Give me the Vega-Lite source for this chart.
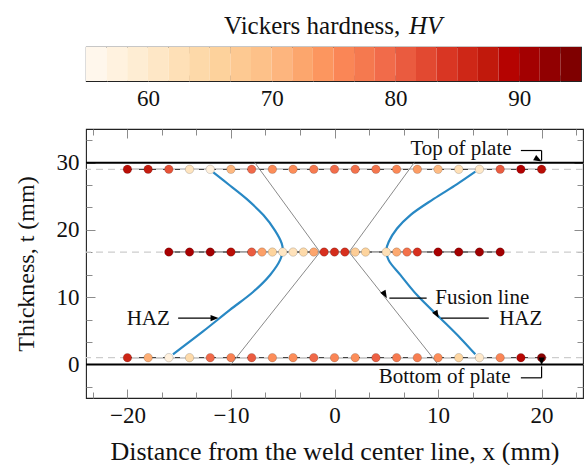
{
  "$schema": "https://vega.github.io/schema/vega-lite/v6.json",
  "padding": {"left": 13, "top": 13, "right": 2, "bottom": 4},
  "config": {
    "font": "Liberation Serif",
    "view": {"stroke": "#222222", "strokeWidth": 1.1},
    "axis": {
      "labelFont": "Liberation Serif",
      "titleFont": "Liberation Serif",
      "labelFontSize": 23,
      "titleFontSize": 25,
      "titleFontWeight": "normal",
      "labelColor": "#111111",
      "titleColor": "#111111",
      "domain": false,
      "grid": false,
      "labelOverlap": false,
      "labelFlush": false,
      "tickColor": "#8c8c8c",
      "tickWidth": 1
    }
  },
  "datasets": {
    "bands": [
      {"lo": 55, "hi": 56.667, "hv": 55},
      {"lo": 56.667, "hi": 58.333, "hv": 56.739},
      {"lo": 58.333, "hi": 60, "hv": 58.478},
      {"lo": 60, "hi": 61.667, "hv": 60.217},
      {"lo": 61.667, "hi": 63.333, "hv": 61.957},
      {"lo": 63.333, "hi": 65, "hv": 63.696},
      {"lo": 65, "hi": 66.667, "hv": 65.435},
      {"lo": 66.667, "hi": 68.333, "hv": 67.174},
      {"lo": 68.333, "hi": 70, "hv": 68.913},
      {"lo": 70, "hi": 71.667, "hv": 70.652},
      {"lo": 71.667, "hi": 73.333, "hv": 72.391},
      {"lo": 73.333, "hi": 75, "hv": 74.13},
      {"lo": 75, "hi": 76.667, "hv": 75.87},
      {"lo": 76.667, "hi": 78.333, "hv": 77.609},
      {"lo": 78.333, "hi": 80, "hv": 79.348},
      {"lo": 80, "hi": 81.667, "hv": 81.087},
      {"lo": 81.667, "hi": 83.333, "hv": 82.826},
      {"lo": 83.333, "hi": 85, "hv": 84.565},
      {"lo": 85, "hi": 86.667, "hv": 86.304},
      {"lo": 86.667, "hi": 88.333, "hv": 88.043},
      {"lo": 88.333, "hi": 90, "hv": 89.783},
      {"lo": 90, "hi": 91.667, "hv": 91.522},
      {"lo": 91.667, "hi": 93.333, "hv": 93.261},
      {"lo": 93.333, "hi": 95, "hv": 95}
    ],
    "cbTitle": [{"text": "Vickers hardness,", "x": 80.4, "y": 1.62}],
    "cbSymbol": [{"text": "HV", "x": 81.1, "y": 1.62}],
    "pts": [
      {"row": "top", "x": -20, "y": 29, "hv": 89},
      {"row": "top", "x": -18, "y": 29, "hv": 87.5},
      {"row": "top", "x": -16, "y": 29, "hv": 82},
      {"row": "top", "x": -14, "y": 29, "hv": 61},
      {"row": "top", "x": -12, "y": 29, "hv": 57},
      {"row": "top", "x": -10, "y": 29, "hv": 70.5},
      {"row": "top", "x": -8, "y": 29, "hv": 79.5},
      {"row": "top", "x": -6, "y": 29, "hv": 75},
      {"row": "top", "x": -4, "y": 29, "hv": 75},
      {"row": "top", "x": -2, "y": 29, "hv": 77.5},
      {"row": "top", "x": 0, "y": 29, "hv": 79},
      {"row": "top", "x": 2, "y": 29, "hv": 78.5},
      {"row": "top", "x": 4, "y": 29, "hv": 78},
      {"row": "top", "x": 6, "y": 29, "hv": 75.5},
      {"row": "top", "x": 8, "y": 29, "hv": 73.5},
      {"row": "top", "x": 10, "y": 29, "hv": 70},
      {"row": "top", "x": 12, "y": 29, "hv": 62},
      {"row": "top", "x": 14, "y": 29, "hv": 60},
      {"row": "top", "x": 16, "y": 29, "hv": 81},
      {"row": "top", "x": 18, "y": 29, "hv": 90},
      {"row": "top", "x": 20, "y": 29, "hv": 89},
      {"row": "mid", "x": -16, "y": 16.7, "hv": 91},
      {"row": "mid", "x": -14, "y": 16.7, "hv": 91},
      {"row": "mid", "x": -12, "y": 16.7, "hv": 91.5},
      {"row": "mid", "x": -10, "y": 16.7, "hv": 89},
      {"row": "mid", "x": -8, "y": 16.7, "hv": 81},
      {"row": "mid", "x": -7, "y": 16.7, "hv": 73},
      {"row": "mid", "x": -6, "y": 16.7, "hv": 65},
      {"row": "mid", "x": -5, "y": 16.7, "hv": 60.5},
      {"row": "mid", "x": -4, "y": 16.7, "hv": 61.5},
      {"row": "mid", "x": -3, "y": 16.7, "hv": 63.5},
      {"row": "mid", "x": -2, "y": 16.7, "hv": 72.5},
      {"row": "mid", "x": -1, "y": 16.7, "hv": 85},
      {"row": "mid", "x": 0, "y": 16.7, "hv": 85.5},
      {"row": "mid", "x": 1, "y": 16.7, "hv": 85},
      {"row": "mid", "x": 2, "y": 16.7, "hv": 66.5},
      {"row": "mid", "x": 3, "y": 16.7, "hv": 65},
      {"row": "mid", "x": 5, "y": 16.7, "hv": 62},
      {"row": "mid", "x": 6, "y": 16.7, "hv": 72},
      {"row": "mid", "x": 7, "y": 16.7, "hv": 78.5},
      {"row": "mid", "x": 8, "y": 16.7, "hv": 85},
      {"row": "mid", "x": 10, "y": 16.7, "hv": 91},
      {"row": "mid", "x": 12, "y": 16.7, "hv": 91.5},
      {"row": "mid", "x": 14, "y": 16.7, "hv": 92},
      {"row": "mid", "x": 16, "y": 16.7, "hv": 91.5},
      {"row": "bottom", "x": -20, "y": 1, "hv": 86.5},
      {"row": "bottom", "x": -18, "y": 1, "hv": 71.5},
      {"row": "bottom", "x": -16, "y": 1, "hv": 57},
      {"row": "bottom", "x": -14, "y": 1, "hv": 63.5},
      {"row": "bottom", "x": -12, "y": 1, "hv": 79.5},
      {"row": "bottom", "x": -10, "y": 1, "hv": 76.5},
      {"row": "bottom", "x": -8, "y": 1, "hv": 81},
      {"row": "bottom", "x": -6, "y": 1, "hv": 75},
      {"row": "bottom", "x": -4, "y": 1, "hv": 75},
      {"row": "bottom", "x": -2, "y": 1, "hv": 79.5},
      {"row": "bottom", "x": 0, "y": 1, "hv": 76},
      {"row": "bottom", "x": 2, "y": 1, "hv": 75},
      {"row": "bottom", "x": 4, "y": 1, "hv": 80.5},
      {"row": "bottom", "x": 6, "y": 1, "hv": 77.5},
      {"row": "bottom", "x": 8, "y": 1, "hv": 77},
      {"row": "bottom", "x": 10, "y": 1, "hv": 75},
      {"row": "bottom", "x": 12, "y": 1, "hv": 64.5},
      {"row": "bottom", "x": 14, "y": 1, "hv": 59.5},
      {"row": "bottom", "x": 16, "y": 1, "hv": 76},
      {"row": "bottom", "x": 18, "y": 1, "hv": 89.5},
      {"row": "bottom", "x": 20, "y": 1, "hv": 94}
    ],
    "levels": [{"y": 1}, {"y": 16.7}, {"y": 29}],
    "plate": [{"y": 0}, {"y": 30}],
    "fusion": [
      {"side": "L", "i": 0, "x": -7.7, "y": 30},
      {"side": "L", "i": 1, "x": -1.4, "y": 16.7},
      {"side": "L", "i": 2, "x": -10, "y": 0},
      {"side": "R", "i": 0, "x": 7.7, "y": 30},
      {"side": "R", "i": 1, "x": 1.4, "y": 16.7},
      {"side": "R", "i": 2, "x": 10, "y": 0}
    ],
    "haz": [
      {"side": "L", "x": -11.7, "y": 28.55},
      {"side": "L", "x": -10.1, "y": 26.6},
      {"side": "L", "x": -8.49, "y": 24.6},
      {"side": "L", "x": -6.87, "y": 22.2},
      {"side": "L", "x": -5.74, "y": 19.9},
      {"side": "L", "x": -5.1, "y": 18.0},
      {"side": "L", "x": -5.0, "y": 17.0},
      {"side": "L", "x": -5.26, "y": 15.5},
      {"side": "L", "x": -6.22, "y": 13.3},
      {"side": "L", "x": -7.84, "y": 10.8},
      {"side": "L", "x": -10.1, "y": 8.1},
      {"side": "L", "x": -12.7, "y": 4.9},
      {"side": "L", "x": -15.6, "y": 1.5},
      {"side": "R", "x": 13.6, "y": 28.65},
      {"side": "R", "x": 11.84, "y": 26.8},
      {"side": "R", "x": 9.58, "y": 24.6},
      {"side": "R", "x": 7.33, "y": 22.2},
      {"side": "R", "x": 6.04, "y": 20.2},
      {"side": "R", "x": 5.23, "y": 18.2},
      {"side": "R", "x": 5.0, "y": 17.0},
      {"side": "R", "x": 5.23, "y": 15.5},
      {"side": "R", "x": 6.36, "y": 13.3},
      {"side": "R", "x": 7.97, "y": 10.3},
      {"side": "R", "x": 10.2, "y": 6.9},
      {"side": "R", "x": 12.16, "y": 3.9},
      {"side": "R", "x": 13.6, "y": 1.5}
    ],
    "leaders": [
      {"x": 18.0, "y": 31.8, "x2": 20, "y2": 31.8},
      {"x": 20, "y": 31.8, "x2": 20, "y2": 30.3},
      {"x": 18.0, "y": -2.0, "x2": 20, "y2": -2.0},
      {"x": 20, "y": -2.0, "x2": 20, "y2": -0.3},
      {"x": 8.9, "y": 9.85, "x2": 5.3, "y2": 9.85},
      {"x": 14.9, "y": 6.88, "x2": 10.3, "y2": 6.88},
      {"x": -15.1, "y": 6.88, "x2": -11.45, "y2": 6.88}
    ],
    "heads": [
      {"x": 20, "y": 30.15, "dir": "down"},
      {"x": 20, "y": -0.15, "dir": "up"},
      {"x": 5.06, "y": 9.85, "dir": "left"},
      {"x": 10.07, "y": 6.88, "dir": "left"},
      {"x": -11.2, "y": 6.88, "dir": "right"}
    ],
    "notesEnd": [
      {"label": "Top of plate", "x": 17.1, "y": 32.0},
      {"label": "Bottom of plate", "x": 17.0, "y": -1.9},
      {"label": "HAZ", "x": -15.9, "y": 6.8}
    ],
    "notesStart": [
      {"label": "Fusion line", "x": 9.74, "y": 9.94},
      {"label": "HAZ", "x": 15.9, "y": 6.8}
    ]
  },
  "spacing": 16,
  "vconcat": [
    {
      "width": 495,
      "height": 34,
      "layer": [
        {
          "data": {"name": "bands"},
          "mark": {"type": "rect"},
          "encoding": {
            "x": {
              "field": "lo",
              "type": "quantitative",
              "scale": {"domain": [55, 95], "nice": false, "zero": false},
              "axis": {
                "values": [56.667, 60, 63.333, 66.667, 70, 73.333, 76.667, 80, 83.333, 86.667, 90, 93.333],
                "format": "d",
                "labelExpr": "abs(datum.value % 10) < 0.01 ? datum.label : ''",
                "tickSize": -6,
                "labelPadding": 12,
                "title": null
              }
            },
            "x2": {"field": "hi"},
            "color": {
              "field": "hv",
              "type": "quantitative",
              "scale": {
                "domain": [55, 60, 65, 70, 75, 80, 85, 90, 95],
                "range": ["#fff7ec", "#fee8c8", "#fdd49e", "#fdbb84", "#fc8d59", "#ef6548", "#d7301f", "#b30000", "#7f0000"]
              },
              "legend": null
            }
          }
        },
        {
          "data": {"name": "cbTitle"},
          "mark": {"type": "text", "align": "right", "baseline": "middle", "fontSize": 25, "color": "#111111"},
          "encoding": {
            "x": {
              "field": "x",
              "type": "quantitative",
              "axis": {
                "orient": "top",
                "values": [56.667, 60, 63.333, 66.667, 70, 73.333, 76.667, 80, 83.333, 86.667, 90, 93.333],
                "labels": false,
                "tickSize": -6,
                "title": null
              }
            },
            "y": {"field": "y", "type": "quantitative", "scale": {"domain": [0, 1], "nice": false, "zero": false}, "axis": null},
            "text": {"field": "text"}
          }
        },
        {
          "data": {"name": "cbSymbol"},
          "mark": {"type": "text", "align": "left", "baseline": "middle", "fontSize": 25, "fontStyle": "italic", "color": "#111111"},
          "encoding": {
            "x": {"field": "x", "type": "quantitative", "axis": null},
            "y": {"field": "y", "type": "quantitative", "axis": null},
            "text": {"field": "text"}
          }
        }
      ],
      "resolve": {"axis": {"x": "independent"}}
    },
    {
      "width": 497,
      "height": 269,
      "layer": [
        {
          "data": {"name": "plate"},
          "mark": {"type": "rule", "color": "#000000", "strokeWidth": 2},
          "encoding": {
            "x": {
              "datum": -24,
              "type": "quantitative",
              "scale": {"domain": [-24, 24], "nice": false, "zero": false},
              "axis": {
                "orient": "top",
                "values": [-23.333, -20, -16.667, -13.333, -10, -6.667, -3.333, 0, 3.333, 6.667, 10, 13.333, 16.667, 20, 23.333],
                "labels": false,
                "tickSize": {"condition": {"test": "abs(datum.value % 10) < 0.01", "value": -9}, "value": -6},
                "title": null
              }
            },
            "x2": {"datum": 24},
            "y": {
              "field": "y",
              "type": "quantitative",
              "scale": {"domain": [-5, 35], "nice": false, "zero": false},
              "axis": {
                "orient": "right",
                "values": [-3.333, 0, 3.333, 6.667, 10, 13.333, 16.667, 20, 23.333, 26.667, 30, 33.333],
                "labels": false,
                "tickSize": {"condition": {"test": "abs(datum.value % 10) < 0.01", "value": -9}, "value": -6},
                "title": null
              }
            }
          }
        },
        {
          "data": {"name": "pts"},
          "mark": {"type": "line", "color": "#444444", "strokeWidth": 1.4},
          "encoding": {
            "x": {
              "field": "x",
              "type": "quantitative",
              "title": "Distance from the weld center line, x (mm)",
              "axis": {
                "values": [-23.333, -20, -16.667, -13.333, -10, -6.667, -3.333, 0, 3.333, 6.667, 10, 13.333, 16.667, 20, 23.333],
                "format": "d",
                "labelExpr": "abs(datum.value % 10) < 0.01 ? datum.label : ''",
                "tickSize": {"condition": {"test": "abs(datum.value % 10) < 0.01", "value": -9}, "value": -6},
                "labelPadding": 15,
                "titleFontSize": 26,
                "titlePadding": 8
              }
            },
            "y": {
              "field": "y",
              "type": "quantitative",
              "title": "Thickness, t (mm)",
              "axis": {
                "values": [-3.333, 0, 3.333, 6.667, 10, 13.333, 16.667, 20, 23.333, 26.667, 30, 33.333],
                "format": "d",
                "labelExpr": "abs(datum.value % 10) < 0.01 ? datum.label : ''",
                "tickSize": {"condition": {"test": "abs(datum.value % 10) < 0.01", "value": -9}, "value": -6},
                "labelPadding": 16,
                "titleFontSize": 24,
                "titlePadding": 18
              }
            },
            "detail": {"field": "row"},
            "order": {"field": "x"}
          }
        },
        {
          "layer": [
            {
              "data": {"name": "levels"},
              "mark": {"type": "rule", "color": "#cdcdcd", "strokeWidth": 1.2, "strokeDash": [7, 5]},
              "encoding": {"y": {"field": "y", "type": "quantitative", "axis": null}}
            },
            {
              "data": {"name": "fusion"},
              "mark": {"type": "line", "color": "#8a8a8a", "strokeWidth": 1},
              "encoding": {
                "x": {"field": "x", "type": "quantitative", "axis": null},
                "y": {"field": "y", "type": "quantitative", "axis": null},
                "detail": {"field": "side"},
                "order": {"field": "i"}
              }
            },
            {
              "data": {"name": "haz"},
              "mark": {"type": "line", "color": "#2888c4", "strokeWidth": 2.2, "interpolate": "catmull-rom"},
              "encoding": {
                "x": {"field": "x", "type": "quantitative", "axis": null},
                "y": {"field": "y", "type": "quantitative", "axis": null},
                "detail": {"field": "side"},
                "order": {"field": "y"}
              }
            },
            {
              "data": {"name": "pts"},
              "mark": {"type": "circle", "size": 72, "opacity": 1, "stroke": "#000000", "strokeOpacity": 0.2, "strokeWidth": 0.8},
              "encoding": {
                "x": {"field": "x", "type": "quantitative", "axis": null},
                "y": {"field": "y", "type": "quantitative", "axis": null},
                "color": {
                  "field": "hv",
                  "type": "quantitative",
                  "scale": {
                    "domain": [55, 60, 65, 70, 75, 80, 85, 90, 95],
                    "range": ["#fff7ec", "#fee8c8", "#fdd49e", "#fdbb84", "#fc8d59", "#ef6548", "#d7301f", "#b30000", "#7f0000"]
                  },
                  "legend": null
                }
              }
            },
            {
              "data": {"name": "leaders"},
              "mark": {"type": "rule", "color": "#000000", "strokeWidth": 1.2},
              "encoding": {
                "x": {"field": "x", "type": "quantitative", "axis": null},
                "y": {"field": "y", "type": "quantitative", "axis": null},
                "x2": {"field": "x2"},
                "y2": {"field": "y2"}
              }
            },
            {
              "data": {"name": "heads"},
              "mark": {"type": "point", "shape": "M0,0L-1,-0.38L-1,0.38Z", "size": 256, "filled": true, "color": "#000000", "opacity": 1},
              "encoding": {
                "x": {"field": "x", "type": "quantitative", "axis": null},
                "y": {"field": "y", "type": "quantitative", "axis": null},
                "angle": {
                  "field": "dir",
                  "type": "nominal",
                  "scale": {"domain": ["right", "down", "left", "up"], "range": [0, 90, 180, 270]},
                  "legend": null
                }
              }
            },
            {
              "data": {"name": "notesEnd"},
              "mark": {"type": "text", "align": "right", "baseline": "middle", "fontSize": 21, "color": "#111111"},
              "encoding": {
                "x": {"field": "x", "type": "quantitative", "axis": null},
                "y": {"field": "y", "type": "quantitative", "axis": null},
                "text": {"field": "label"}
              }
            },
            {
              "data": {"name": "notesStart"},
              "mark": {"type": "text", "align": "left", "baseline": "middle", "fontSize": 21, "color": "#111111"},
              "encoding": {
                "x": {"field": "x", "type": "quantitative", "axis": null},
                "y": {"field": "y", "type": "quantitative", "axis": null},
                "text": {"field": "label"}
              }
            }
          ]
        }
      ],
      "resolve": {"axis": {"x": "independent", "y": "independent"}}
    }
  ]
}
